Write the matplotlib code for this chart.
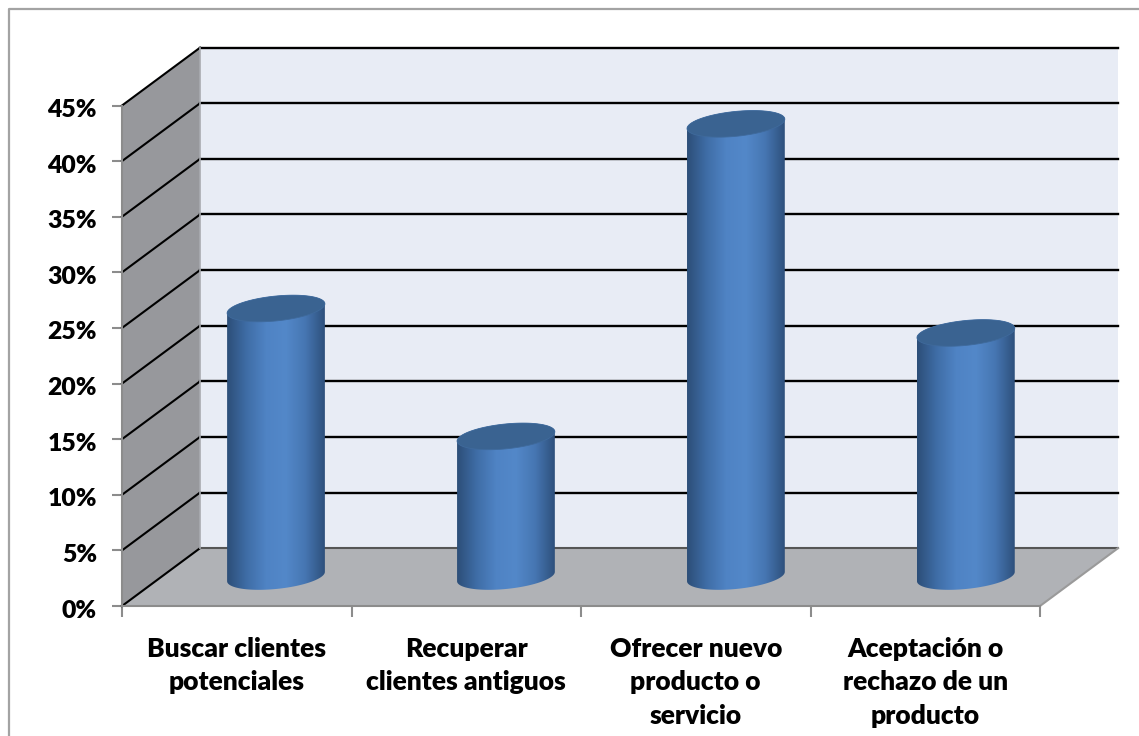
#!/usr/bin/env python3

import numpy as np
import matplotlib
matplotlib.use("Agg")
import matplotlib.pyplot as plt
from matplotlib.colors import LinearSegmentedColormap
from matplotlib.lines import Line2D
from matplotlib.patches import Polygon
from matplotlib.transforms import ScaledTranslation

plt.rcParams["font.family"] = ["Lato", "DejaVu Sans"]

CATEGORIES = [
    "Buscar clientes\npotenciales",
    "Recuperar\nclientes antiguos",
    "Ofrecer nuevo\nproducto o\nservicio",
    "Aceptación o\nrechazo de un\nproducto",
]
VALUES = [24.1, 12.6, 40.7, 21.9]
Y_TICKS = [0, 5, 10, 15, 20, 25, 30, 35, 40, 45]
Y_LABELS = ["0%", "5%", "10%", "15%", "20%", "25%", "30%", "35%", "40%", "45%"]

# depth of the fake 3D box, in axis units
DEPTH_X = 0.34
DEPTH_Y = 5.2
BAR_HALF = 0.213
BAR_STEP = 1.002
ELL_B = 1.12
ELL_SHEAR = 0.42
BASE_Y = 2.65

BAR_CMAP = LinearSegmentedColormap.from_list(
    "cylinder", ["#2c4e78", "#3f6da6", "#4f83c4", "#5388c9", "#4676b2", "#2e507c"]
)

W, H = 1139, 736
fig = plt.figure(figsize=(W / 100, H / 100), dpi=100, facecolor="white")
ax = fig.add_axes([122 / W, (H - 606) / H, 918 / W, 500.5 / H])
ax.set_facecolor("none")

# outer chart frame, only its top and left edges fall inside the canvas
frame_x = 9 / W
frame_y = 1 - 9 / H
fig.add_artist(Line2D([frame_x, frame_x, 1], [0, frame_y, frame_y], transform=fig.transFigure,
                      color="#a3a3a3", lw=1.6))

top = Y_TICKS[-1]
ax.add_patch(Polygon([(0, 0), (DEPTH_X, DEPTH_Y), (DEPTH_X, top + DEPTH_Y), (0, top)],
                     facecolor="#97989c", edgecolor="none", zorder=1, clip_on=False))
ax.add_patch(Polygon([(DEPTH_X, DEPTH_Y), (4 + DEPTH_X, DEPTH_Y), (4 + DEPTH_X, top + DEPTH_Y), (DEPTH_X, top + DEPTH_Y)],
                     facecolor="#e8ecf5", edgecolor="none", zorder=1, clip_on=False))
ax.add_patch(Polygon([(0, 0), (4, 0), (4 + DEPTH_X, DEPTH_Y), (DEPTH_X, DEPTH_Y)],
                     facecolor="#b0b2b6", edgecolor="none", zorder=1, clip_on=False))

# gridlines run along the side wall and the back wall
for tick in Y_TICKS:
    ax.plot([0, DEPTH_X], [tick, tick + DEPTH_Y], color="black", lw=1.5, zorder=2, clip_on=False)
    if tick > 0:
        ax.plot([DEPTH_X, 4 + DEPTH_X], [tick + DEPTH_Y] * 2, color="black", lw=1.7, zorder=2, clip_on=False)
ax.plot([DEPTH_X, 4 + DEPTH_X], [DEPTH_Y] * 2, color="#555555", lw=1.5, zorder=2, clip_on=False)
ax.plot([DEPTH_X, DEPTH_X], [DEPTH_Y, top + DEPTH_Y], color="#a9abb0", lw=1.2, zorder=2, clip_on=False)
ax.plot([4, 4 + DEPTH_X], [0, DEPTH_Y], color="#9a9a9a", lw=1.5, zorder=2, clip_on=False)

t = np.linspace(0, 2 * np.pi, 200)
lower = np.linspace(np.pi, 2 * np.pi, 100)
upper = np.linspace(0, np.pi, 100)
gradient = np.linspace(0, 1, 256).reshape(1, -1)

for i, value in enumerate(VALUES):
    cx = (i + 0.5) * BAR_STEP + DEPTH_X / 2
    y_top = BASE_Y + value

    # cylinder body: front half of the base ellipse up to the far side of the top one
    xs = np.concatenate([cx + BAR_HALF * np.cos(lower), cx + BAR_HALF * np.cos(upper)])
    ys = np.concatenate([
        BASE_Y + ELL_B * np.sin(lower) + ELL_SHEAR * np.cos(lower),
        y_top + ELL_B * np.sin(upper) + ELL_SHEAR * np.cos(upper),
    ])
    body = Polygon(np.column_stack([xs, ys]), transform=ax.transData, facecolor="none", edgecolor="none")
    ax.add_patch(body)
    im = ax.imshow(gradient, cmap=BAR_CMAP, aspect="auto", zorder=3,
                   extent=(cx - BAR_HALF, cx + BAR_HALF, BASE_Y - 2, y_top + 2), clip_on=True)
    im.set_clip_path(body)

    cap_x = cx + BAR_HALF * np.cos(t)
    cap_y = y_top + ELL_B * np.sin(t) + ELL_SHEAR * np.cos(t)
    ax.add_patch(Polygon(np.column_stack([cap_x, cap_y]), facecolor="#3a6391", edgecolor="#3f6a9c",
                         linewidth=0.6, zorder=4, clip_on=False))

ax.set_xlim(0, 4)
ax.set_ylim(0, 45)

ax.set_yticks(Y_TICKS, Y_LABELS, fontsize=17.8, fontweight="heavy", color="black")
ax.set_xticks(range(5), [""] * 5)
ax.set_xticks([i + 0.5 for i in range(4)], CATEGORIES, minor=True, fontsize=19, fontweight="heavy",
              linespacing=1.48, va="top")
ax.tick_params(axis="y", length=7, width=1.5, color="#8c8c8c", pad=11)
ax.tick_params(axis="x", which="major", length=8, width=1.5, color="#8c8c8c")
ax.tick_params(axis="x", which="minor", length=0, pad=22)

# percent labels sit a little below their ticks
label_shift = ScaledTranslation(0, -2.5 / 72 * 72 / 100, fig.dpi_scale_trans)
for label in ax.get_yticklabels():
    label.set_transform(label.get_transform() + label_shift)

for side in ["top", "right"]:
    ax.spines[side].set_visible(False)
for side in ["left", "bottom"]:
    ax.spines[side].set_color("#8c8c8c")
    ax.spines[side].set_linewidth(1.5)
    ax.spines[side].set_zorder(5)

fig.savefig("out.png", dpi=100)
